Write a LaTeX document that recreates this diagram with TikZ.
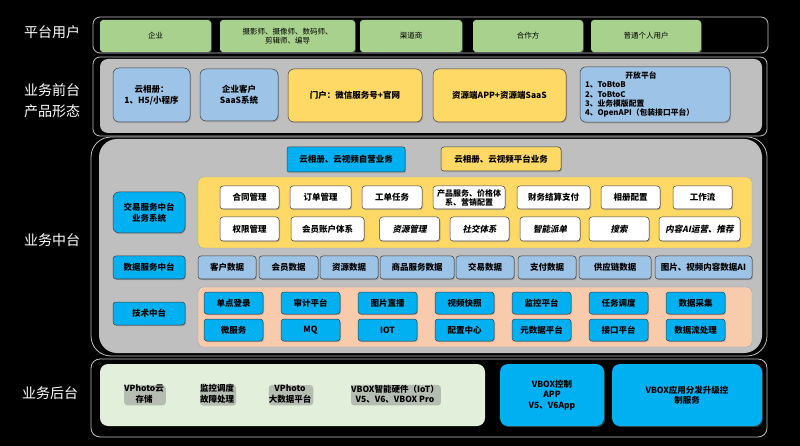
\documentclass[tikz,border=0pt]{standalone}
\usepackage{fontspec}
\setmainfont{Noto Sans CJK SC}
\newfontfamily\slantcjk[FakeSlant=0.2]{Noto Sans CJK SC}
\usepackage{xcolor}
\usepackage{tikz}
\usetikzlibrary{shadows}
\definecolor{UserGreen}{HTML}{A9D18E}
\definecolor{PaleBlue}{HTML}{9DC3E6}
\definecolor{Gold}{HTML}{FFD966}
\definecolor{SkyBlue}{HTML}{00B0F0}
\definecolor{Peach}{HTML}{F8CBAD}
\definecolor{PanelGrey}{HTML}{BFBFBF}
\definecolor{PaleGreen}{HTML}{E2EFDA}
\definecolor{CardLine}{HTML}{3F3F3F}
\definecolor{FrameLine}{HTML}{BFBFBF}

\begin{document}
\begin{tikzpicture}[x=1pt, y=-1pt,
    layerframe/.style={draw=FrameLine, line width=0.8pt, rounded corners=7pt},
    rowlabel/.style={text=white, font=\fontsize{14}{20.5}\selectfont, align=center},
    card/.style={draw=CardLine, line width=0.5pt, rounded corners=3pt, align=center, inner sep=1pt,
        font=\bfseries\fontsize{8.5}{10.5}\selectfont,
        drop shadow={opacity=0.45, shadow xshift=1pt, shadow yshift=-1.2pt}},
    usercard/.style={card, fill=UserGreen, draw=none, drop shadow={opacity=0}, font=\fontsize{7.5}{9.5}\selectfont},
    whitecard/.style={card, fill=white, minimum height=23},
    databox/.style={card, fill=PaleBlue, minimum height=23},
    techbox/.style={card, fill=SkyBlue, minimum width=59, minimum height=22}]

    % background
    \fill [black] (0,0) rectangle (800,446);

    % platform users
    \node [rowlabel] (lblusers) at (52,32) {平台用户};
    \draw [layerframe] (93,17) rectangle (768,53);
    \node [usercard, minimum width=111, minimum height=32] (qiye) at (155.5,36) {企业};
    \node [usercard, minimum width=135, minimum height=32] (sheying) at (287.5,36) {摄影师、摄像师、数码师、\\剪辑师、编导};
    \node [usercard, minimum width=102, minimum height=32] (qudao) at (411,36) {渠道商};
    \node [usercard, minimum width=110, minimum height=32] (hezuo) at (528,36) {合作方};
    \node [usercard, minimum width=110, minimum height=32] (geren) at (646,36) {普通个人用户};

    % front-end products
    \node [rowlabel] (lblfront) at (52,100.5) {业务前台\\产品形态};
    \draw [layerframe] (93,57) rectangle (767,136);
    \fill [PanelGrey, rounded corners=8pt] (100,59) rectangle (762,133);
    \node [card, fill=PaleBlue, minimum width=77, minimum height=54, rounded corners=6pt] (yunxiangce) at (151.5,95) {云相册：\\1、H5/小程序};
    \node [card, fill=PaleBlue, minimum width=78, minimum height=52, rounded corners=6pt] (saas) at (239,95) {企业客户\\SaaS系统};
    \node [card, fill=Gold, minimum width=134, minimum height=53, rounded corners=6pt] (menhu) at (355,95.5) {门户：微信服务号+官网};
    \node [card, fill=Gold, minimum width=133, minimum height=53, rounded corners=6pt] (ziyuanapp) at (499.5,95.5) {资源端APP+资源端SaaS};
    \node [card, fill=PaleBlue, minimum width=150, minimum height=51, rounded corners=6pt, align=left,
        text width=140, inner sep=5pt, font=\bfseries\fontsize{7.8}{9.2}\selectfont] (openplat) at (655,94.5)
        {\makebox[112pt]{开放平台}\\1、ToBtoB\\2、ToBtoC\\3、业务模版配置\\4、OpenAPI（包装接口平台）};

    % middle platform
    \node [rowlabel] (lblmiddle) at (52,240) {业务中台};
    \draw [layerframe, rounded corners=20pt] (91,137) rectangle (767,356);
    \fill [PanelGrey, rounded corners=18pt] (99,139) rectangle (762,353);
    \node [card, fill=SkyBlue, minimum width=118, minimum height=25, rounded corners=2pt] (ziying) at (346,159.5) {云相册、云视频自营业务};
    \node [card, fill=Gold, minimum width=120, minimum height=24] (pingtai) at (501,159) {云相册、云视频平台业务};

    % trade services
    \draw [draw=PaleBlue!60!gray, fill=Gold, rounded corners=5pt] (198,177) rectangle (752,248);
    \node [card, fill=SkyBlue, minimum width=72, minimum height=41, rounded corners=6pt] (jiaoyi) at (149,212.5) {交易服务中台\\业务系统};
    \node [whitecard, minimum width=59] (hetong) at (249.5,197.5) {合同管理};
    \node [whitecard, minimum width=61] (dingdan) at (320.5,197.5) {订单管理};
    \node [whitecard, minimum width=60] (gongdan) at (392,197.5) {工单任务};
    \node [whitecard, minimum width=72, font=\bfseries\fontsize{8}{9}\selectfont] (chanpin) at (469,197.5) {产品服务、价格体\\系、营销配置};
    \node [whitecard, minimum width=73] (caiwu) at (553.5,197.5) {财务结算支付};
    \node [whitecard, minimum width=59] (xcpeizhi) at (630.5,197.5) {相册配置};
    \node [whitecard, minimum width=59] (gongzuoliu) at (702.5,197.5) {工作流};
    \node [whitecard, minimum width=59, minimum height=24] (quanxian) at (249.5,229) {权限管理};
    \node [whitecard, minimum width=73, minimum height=24] (huiyuan) at (327.5,229) {会员账户体系};
    \node [whitecard, minimum width=60, minimum height=24] (zyguanli) at (409.5,229) {\slantcjk 资源管理};
    \node [whitecard, minimum width=59, minimum height=24] (shejiao) at (479.5,229) {\slantcjk 社交体系};
    \node [whitecard, minimum width=60, minimum height=24] (paidan) at (550,229) {\slantcjk 智能派单};
    \node [whitecard, minimum width=60, minimum height=24] (sousuo) at (619,229) {\slantcjk 搜索};
    \node [whitecard, minimum width=81, minimum height=24] (neirong) at (699.5,229) {\slantcjk 内容AI运营、推荐};

    % data services
    \node [card, fill=SkyBlue, minimum width=72, minimum height=23] (shuju) at (149,267.5) {数据服务中台};
    \node [databox, minimum width=58] (kehu) at (227,267.5) {客户数据};
    \node [databox, minimum width=59] (hysj) at (288.5,267.5) {会员数据};
    \node [databox, minimum width=58] (zysj) at (349,267.5) {资源数据};
    \node [databox, minimum width=74] (shangpin) at (417,267.5) {商品服务数据};
    \node [databox, minimum width=58] (jysj) at (485,267.5) {交易数据};
    \node [databox, minimum width=58] (zhifu) at (547,267.5) {支付数据};
    \node [databox, minimum width=72] (gongying) at (615,267.5) {供应链数据};
    \node [databox, minimum width=97] (tupian) at (703.5,267.5) {图片、视频内容数据AI};

    % technical platform
    \draw [draw=PaleBlue!60!gray, fill=Peach, rounded corners=5pt] (198,287) rectangle (752,347);
    \node [card, fill=SkyBlue, minimum width=72, minimum height=23] (jishu) at (149,313.5) {技术中台};
    \node [techbox] (danddian) at (233.5,303) {单点登录};
    \node [techbox] (shenji) at (310.5,303) {审计平台};
    \node [techbox] (zhibo) at (387.5,303) {图片直播};
    \node [techbox] (kuaizhao) at (464.5,303) {视频快照};
    \node [techbox] (jiankong) at (541.5,303) {监控平台};
    \node [techbox] (diaodu) at (618.5,303) {任务调度};
    \node [techbox] (caiji) at (695.5,303) {数据采集};
    \node [techbox] (weifuwu) at (233.5,330) {微服务};
    \node [techbox] (mq) at (310.5,330) {MQ};
    \node [techbox] (iot) at (387.5,330) {IOT};
    \node [techbox] (peizhi) at (464.5,330) {配置中心};
    \node [techbox] (yuanshuju) at (541.5,330) {元数据平台};
    \node [techbox] (jiekou) at (618.5,330) {接口平台};
    \node [techbox] (liuchuli) at (695.5,330) {数据流处理};

    % back-end
    \node [rowlabel] (lblback) at (50,393) {业务后台};
    \draw [layerframe, rounded corners=9pt] (91,359) rectangle (767,437);
    \fill [PaleGreen, rounded corners=8pt] (100,364) rectangle (485,426);
    \node [card, draw=none, drop shadow={opacity=0}] (vpcloud) at (144,394) {VPhoto云\\存储};
    \node [card, draw=none, drop shadow={opacity=0}] (guzhang) at (217,394) {监控调度\\故障处理};
    \node [card, draw=none, drop shadow={opacity=0}] (vpdata) at (290,394) {VPhoto\\大数据平台};
    \node [card, draw=none, drop shadow={opacity=0}] (vboxhw) at (395,394) {VBOX智能硬件（IoT）\\V5、V6、VBOX Pro};
    \node [card, fill=SkyBlue, draw=none, drop shadow={opacity=0}, minimum width=104, minimum height=62, rounded corners=8pt] (vboxapp) at (552,395) {VBOX控制\\APP\\V5、V6App};
    \node [card, fill=SkyBlue, draw=none, drop shadow={opacity=0}, minimum width=150, minimum height=62, rounded corners=8pt] (vboxdist) at (687,395) {VBOX应用分发升级控\\制服务};
\end{tikzpicture}
\end{document}
